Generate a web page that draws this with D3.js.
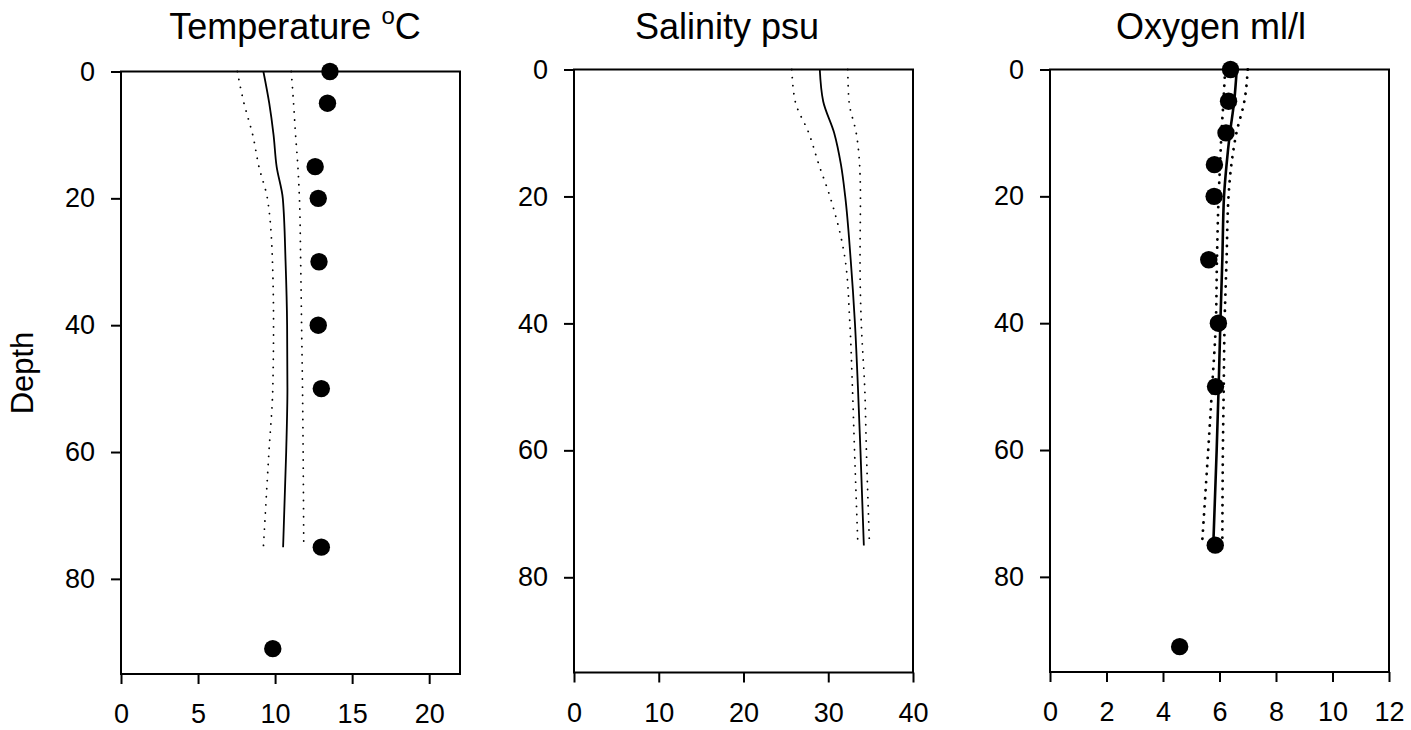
<!DOCTYPE html>
<html>
<head>
<meta charset="utf-8">
<script src="https://cdn.jsdelivr.net/npm/d3@7"></script>
<style>
  body { margin: 0; background: #fff; }
  svg text { font-family: "Liberation Sans", Arial, sans-serif; fill: #000; }
</style>
</head>
<body>
<div id="chart"></div>
<script>
// depth levels of the fitted profiles (solid line + dotted bounds)
const profileDepth = [0, 5, 10, 15, 20, 30, 40, 50, 60, 75];

// temperature (oC)
const tempFit   = [9.24, 9.62, 9.9, 10.1, 10.5, 10.68, 10.78, 10.8, 10.72, 10.52];
const tempLow   = [7.55, 7.98, 8.55, 8.95, 9.5, 9.83, 9.9, 9.85, 9.6, 9.24];
const tempHigh  = [11.05, 11.2, 11.33, 11.48, 11.58, 11.66, 11.72, 11.78, 11.82, 11.86];
const tempObsDepth = [0, 5, 15, 20, 30, 40, 50, 75, 91];
const tempObs      = [13.56, 13.4, 12.6, 12.8, 12.85, 12.8, 13.0, 13.0, 9.85];

// salinity (psu)
const salFit  = [29.0, 29.4, 30.7, 31.5, 32.0, 32.65, 33.15, 33.5, 33.8, 34.2];
const salLow  = [25.7, 26.1, 27.7, 28.9, 30.2, 32.0, 32.55, 32.85, 33.1, 33.5];
const salHigh = [32.3, 32.45, 33.3, 33.7, 33.8, 33.75, 33.9, 34.3, 34.5, 34.87];

// oxygen (ml/l)
const oxyFit  = [6.61, 6.52, 6.37, 6.25, 6.16, 6.1, 6.03, 5.97, 5.9, 5.78];
const oxyLow  = [6.2, 6.14, 6.07, 6.02, 5.97, 5.91, 5.87, 5.74, 5.6, 5.38];
const oxyHigh = [7.0, 6.88, 6.6, 6.42, 6.32, 6.25, 6.18, 6.15, 6.12, 6.1];
const oxyObsDepth = [0, 5, 10, 15, 20, 30, 40, 50, 75, 91];
const oxyObs      = [6.39, 6.32, 6.23, 5.82, 5.81, 5.62, 5.96, 5.86, 5.85, 4.59];

const depthTicks = [0, 20, 40, 60, 80];
const tempTicks = [0, 5, 10, 15, 20];
const salTicks = [0, 10, 20, 30, 40];
const oxyTicks = [0, 2, 4, 6, 8, 10, 12];

const W = 1411, H = 730;
const svg = d3.select("#chart").append("svg")
    .attr("width", W)
    .attr("height", H);

const panels = [
    { left: 121, top: 71.5, bottom: 674, xMax: 22, ticks: tempTicks, titleX: 295,
      fit: tempFit, low: tempLow, high: tempHigh, obs: tempObs, obsDepth: tempObsDepth,
      lineW: 1.8, dotW: 1.8, title: "temp" },
    { left: 574, top: 69.5, bottom: 672.5, xMax: 40, ticks: salTicks, titleX: 727,
      fit: salFit, low: salLow, high: salHigh, obs: null, obsDepth: null,
      lineW: 1.8, dotW: 1.8, title: "Salinity psu" },
    { left: 1050, top: 69.5, bottom: 672, xMax: 12, ticks: oxyTicks, titleX: 1211,
      fit: oxyFit, low: oxyLow, high: oxyHigh, obs: oxyObs, obsDepth: oxyObsDepth,
      lineW: 2.6, dotW: 2.8, title: "Oxygen ml/l" }
];
const panelW = 339;
const tickFont = 27;

panels.forEach(function(p) {
    const x = d3.scaleLinear().domain([0, p.xMax]).range([p.left, p.left + panelW]);
    const y = d3.scaleLinear().domain([0, 95]).range([p.top, p.bottom]);
    const g = svg.append("g");

    // y axis
    const ya = g.append("g")
        .attr("transform", `translate(${p.left},0)`)
        .call(d3.axisLeft(y).tickValues(depthTicks).tickSize(10).tickSizeOuter(0).tickPadding(16));
    ya.select(".domain").remove();
    ya.selectAll("line").attr("stroke", "#000").attr("stroke-width", 2);
    ya.selectAll("text").attr("font-size", tickFont).style("font-family", '"Liberation Sans", Arial, sans-serif');

    // x axis
    const xa = g.append("g")
        .attr("transform", `translate(0,${p.bottom})`)
        .call(d3.axisBottom(x).tickValues(p.ticks).tickSize(10).tickSizeOuter(0).tickPadding(20));
    xa.select(".domain").remove();
    xa.selectAll("line").attr("stroke", "#000").attr("stroke-width", 2);
    xa.selectAll("text").attr("font-size", tickFont).style("font-family", '"Liberation Sans", Arial, sans-serif');

    // frame
    g.append("rect")
        .attr("x", p.left)
        .attr("y", p.top)
        .attr("width", panelW)
        .attr("height", p.bottom - p.top)
        .attr("fill", "none")
        .attr("stroke", "#000")
        .attr("stroke-width", 2);

    const line = d3.line()
        .x(d => x(d[0]))
        .y(d => y(d[1]))
        .curve(d3.curveMonotoneY);

    // confidence bounds, dotted
    [p.low, p.high].forEach(function(arr) {
        g.append("path")
            .attr("d", line(arr.map((v, i) => [v, profileDepth[i]])))
            .attr("fill", "none")
            .attr("stroke", "#000")
            .attr("stroke-width", p.dotW)
            .attr("stroke-linecap", "round")
            .attr("stroke-dasharray", "0.1,8");
    });

    g.append("path")
        .attr("d", line(p.fit.map((v, i) => [v, profileDepth[i]])))
        .attr("fill", "none")
        .attr("stroke", "#000")
        .attr("stroke-width", p.lineW);

    if (p.obs) {
        g.selectAll("circle.obs")
            .data(p.obs.map((v, i) => [v, p.obsDepth[i]]))
            .enter().append("circle")
            .attr("class", "obs")
            .attr("cx", d => x(d[0]))
            .attr("cy", d => y(d[1]))
            .attr("r", 8.7)
            .attr("fill", "#000");
    }

    // title
    const t = svg.append("text")
        .attr("x", p.titleX)
        .attr("y", 39)
        .attr("text-anchor", "middle")
        .attr("font-size", 36);
    if (p.title === "temp") {
        t.append("tspan").text("Temperature ");
        t.append("tspan").attr("font-size", 24).attr("dy", -15).text("o");
        t.append("tspan").attr("dy", 15).text("C");
    } else {
        t.text(p.title);
    }
});

// shared depth label
svg.append("text")
    .attr("transform", "translate(33,373) rotate(-90)")
    .attr("text-anchor", "middle")
    .attr("font-size", 31)
    .text("Depth");
</script>
</body>
</html>
